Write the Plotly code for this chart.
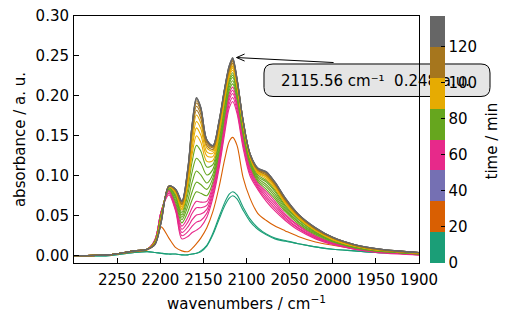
import plotly.graph_objects as go

# ---------------- data ----------------
wavenumbers = [2300, 2260, 2230, 2215, 2206, 2199, 2190, 2182, 2175, 2168, 2163, 2158,
               2153, 2146, 2139, 2132, 2125, 2120, 2116, 2111, 2104, 2096, 2087, 2077,
               2067, 2055, 2040, 2020, 2000, 1975, 1950, 1925, 1900]

times = [0, 8, 25, 53, 56, 60, 63, 66, 70, 73, 77, 80, 84, 88, 92, 96, 100,
         105, 109, 113, 117, 122, 127, 132]

spec_000 = [0.000,0.000,0.004,0.005,0.004,0.003,0.002,0.002,0.001,0.001,0.002,0.003,0.005,0.012,0.026,0.045,0.063,0.072,0.075,0.071,0.057,0.043,0.033,0.026,0.021,0.018,0.015,0.011,0.008,0.006,0.004,0.003,0.002]
spec_008 = [0.000,0.000,0.004,0.005,0.004,0.003,0.002,0.002,0.001,0.001,0.002,0.003,0.006,0.013,0.028,0.048,0.067,0.077,0.080,0.076,0.061,0.046,0.035,0.027,0.022,0.019,0.015,0.011,0.008,0.006,0.004,0.003,0.002]
spec_025 = [0.000,0.001,0.005,0.007,0.015,0.036,0.022,0.010,0.006,0.005,0.009,0.015,0.022,0.035,0.055,0.085,0.122,0.143,0.148,0.138,0.098,0.072,0.053,0.044,0.037,0.031,0.024,0.017,0.013,0.009,0.006,0.004,0.003]
spec_053 = [0.000,0.001,0.006,0.008,0.020,0.055,0.076,0.055,0.021,0.024,0.029,0.032,0.036,0.048,0.072,0.108,0.155,0.185,0.193,0.178,0.135,0.100,0.083,0.068,0.056,0.044,0.032,0.021,0.014,0.008,0.004,0.002,0.001]
spec_056 = [0.000,0.001,0.006,0.008,0.020,0.055,0.078,0.057,0.025,0.030,0.037,0.042,0.044,0.053,0.076,0.112,0.160,0.190,0.198,0.182,0.139,0.103,0.085,0.071,0.059,0.046,0.034,0.022,0.015,0.008,0.005,0.003,0.001]
spec_060 = [0.000,0.001,0.006,0.008,0.020,0.055,0.080,0.059,0.029,0.036,0.045,0.051,0.052,0.058,0.080,0.116,0.165,0.195,0.203,0.187,0.143,0.106,0.087,0.074,0.062,0.048,0.035,0.023,0.015,0.009,0.005,0.003,0.001]
spec_063 = [0.000,0.001,0.006,0.008,0.020,0.054,0.081,0.061,0.033,0.042,0.053,0.060,0.060,0.063,0.084,0.120,0.169,0.199,0.207,0.190,0.146,0.109,0.089,0.077,0.065,0.050,0.037,0.024,0.016,0.009,0.005,0.003,0.002]
spec_066 = [0.000,0.001,0.006,0.008,0.020,0.054,0.082,0.063,0.037,0.048,0.060,0.068,0.067,0.068,0.088,0.124,0.173,0.203,0.211,0.194,0.149,0.111,0.091,0.080,0.068,0.052,0.038,0.025,0.016,0.009,0.005,0.003,0.002]
spec_070 = [0.000,0.001,0.006,0.008,0.018,0.052,0.083,0.066,0.041,0.055,0.070,0.080,0.078,0.075,0.092,0.128,0.177,0.207,0.215,0.197,0.152,0.114,0.093,0.083,0.071,0.055,0.040,0.026,0.017,0.010,0.006,0.004,0.002]
spec_073 = [0.000,0.001,0.006,0.008,0.018,0.051,0.084,0.069,0.045,0.062,0.080,0.092,0.089,0.083,0.097,0.132,0.181,0.211,0.219,0.200,0.155,0.116,0.095,0.086,0.074,0.057,0.042,0.027,0.018,0.010,0.006,0.004,0.002]
spec_077 = [0.000,0.001,0.006,0.008,0.018,0.050,0.085,0.072,0.048,0.069,0.092,0.106,0.101,0.091,0.102,0.137,0.186,0.215,0.223,0.204,0.158,0.118,0.097,0.089,0.077,0.059,0.043,0.028,0.018,0.011,0.006,0.004,0.002]
spec_080 = [0.000,0.001,0.006,0.008,0.018,0.049,0.085,0.074,0.051,0.077,0.105,0.122,0.116,0.101,0.108,0.142,0.190,0.218,0.226,0.206,0.160,0.120,0.099,0.092,0.080,0.061,0.045,0.029,0.019,0.011,0.007,0.004,0.003]
spec_084 = [0.000,0.001,0.006,0.008,0.018,0.048,0.086,0.076,0.054,0.084,0.118,0.138,0.131,0.111,0.114,0.147,0.194,0.221,0.229,0.209,0.162,0.122,0.101,0.094,0.082,0.063,0.046,0.030,0.019,0.011,0.007,0.004,0.003]
spec_088 = [0.000,0.001,0.006,0.008,0.016,0.047,0.086,0.078,0.057,0.089,0.127,0.150,0.142,0.118,0.119,0.151,0.197,0.224,0.232,0.211,0.164,0.123,0.103,0.096,0.084,0.065,0.047,0.031,0.020,0.012,0.007,0.005,0.003]
spec_092 = [0.000,0.001,0.006,0.008,0.016,0.046,0.086,0.079,0.059,0.093,0.135,0.160,0.151,0.125,0.124,0.155,0.200,0.226,0.235,0.213,0.165,0.124,0.104,0.098,0.086,0.066,0.048,0.032,0.020,0.012,0.007,0.005,0.003]
spec_096 = [0.000,0.001,0.006,0.008,0.016,0.045,0.087,0.080,0.061,0.097,0.142,0.168,0.159,0.130,0.128,0.158,0.203,0.228,0.237,0.215,0.166,0.125,0.105,0.099,0.087,0.067,0.049,0.032,0.021,0.012,0.008,0.005,0.003]
spec_100 = [0.000,0.001,0.006,0.008,0.016,0.045,0.087,0.081,0.063,0.100,0.149,0.176,0.166,0.135,0.131,0.161,0.205,0.230,0.239,0.216,0.167,0.126,0.106,0.100,0.088,0.068,0.050,0.033,0.021,0.013,0.008,0.005,0.003]
spec_105 = [0.000,0.001,0.006,0.008,0.015,0.044,0.087,0.081,0.064,0.103,0.154,0.182,0.172,0.138,0.133,0.163,0.207,0.232,0.241,0.218,0.168,0.126,0.107,0.101,0.089,0.069,0.050,0.033,0.022,0.013,0.008,0.005,0.003]
spec_109 = [0.000,0.001,0.006,0.008,0.015,0.043,0.087,0.082,0.065,0.105,0.158,0.187,0.177,0.141,0.135,0.165,0.209,0.234,0.243,0.219,0.169,0.127,0.108,0.102,0.090,0.070,0.051,0.034,0.022,0.013,0.008,0.005,0.004]
spec_113 = [0.000,0.001,0.006,0.008,0.015,0.043,0.087,0.082,0.066,0.107,0.161,0.191,0.181,0.143,0.136,0.166,0.210,0.235,0.244,0.220,0.169,0.127,0.108,0.103,0.091,0.071,0.051,0.034,0.022,0.013,0.008,0.006,0.004]
spec_117 = [0.000,0.001,0.006,0.008,0.015,0.042,0.087,0.082,0.067,0.108,0.163,0.194,0.183,0.144,0.137,0.167,0.211,0.236,0.245,0.221,0.170,0.128,0.109,0.104,0.091,0.071,0.052,0.034,0.023,0.014,0.009,0.006,0.004]
spec_122 = [0.000,0.001,0.006,0.008,0.014,0.042,0.087,0.083,0.068,0.109,0.164,0.196,0.185,0.145,0.137,0.167,0.211,0.237,0.246,0.221,0.170,0.128,0.109,0.104,0.092,0.072,0.052,0.035,0.023,0.014,0.009,0.006,0.004]
spec_127 = [0.000,0.001,0.006,0.008,0.014,0.041,0.087,0.083,0.068,0.110,0.165,0.197,0.186,0.145,0.138,0.168,0.212,0.238,0.247,0.222,0.170,0.128,0.110,0.105,0.092,0.072,0.052,0.035,0.023,0.014,0.009,0.006,0.004]
spec_132 = [0.000,0.001,0.006,0.008,0.014,0.041,0.087,0.083,0.069,0.110,0.165,0.198,0.186,0.145,0.138,0.168,0.212,0.238,0.248,0.222,0.170,0.128,0.110,0.105,0.092,0.072,0.052,0.035,0.023,0.014,0.009,0.006,0.004]

spectra = [spec_000, spec_008, spec_025, spec_053, spec_056, spec_060, spec_063, spec_066,
           spec_070, spec_073, spec_077, spec_080, spec_084, spec_088, spec_092, spec_096,
           spec_100, spec_105, spec_109, spec_113, spec_117, spec_122, spec_127, spec_132]

time_max = 137.2
dark2 = ["#1b9e77", "#d95f02", "#7570b3", "#e7298a", "#66a61e", "#e6ab02", "#a6761d", "#666666"]
cbar_ticks = [0, 20, 40, 60, 80, 100, 120]
x_ticks = [2250, 2200, 2150, 2100, 2050, 2000, 1950, 1900]
y_ticks = [0, 0.05, 0.10, 0.15, 0.20, 0.25, 0.30]

ann_wavenumber = 2115.56
ann_absorbance = 0.248
ann_text = "2115.56 cm\u207b\u00b9  0.248 a.u."

# ---------------- layout geometry ----------------
W, H = 512, 320
L, R, T, B = 74, 93, 16, 57
PW, PH = W - L - R, H - T - B
XR = [2300, 1900]
YR = [-0.0092, 0.30]
FONT = "DejaVu Sans"
FS = 15

def color_for(t):
    n = len(dark2)
    i = min(int(t / time_max * n), n - 1)
    return dark2[i]

fig = go.Figure()
for t, s in zip(times, spectra):
    fig.add_trace(go.Scatter(x=wavenumbers, y=s, mode="lines",
                             line=dict(color=color_for(t), width=1.1, shape="spline", smoothing=0.9),
                             hoverinfo="skip", showlegend=False))

# colorbar
n = len(dark2)
cs = []
for i, c in enumerate(dark2):
    cs.append([i / n, c])
    cs.append([(i + 1) / n, c])
fig.add_trace(go.Scatter(x=[None], y=[None], mode="markers", showlegend=False, hoverinfo="skip",
                         marker=dict(color=[0, time_max], cmin=0, cmax=time_max, colorscale=cs,
                                     showscale=True,
                                     colorbar=dict(x=(429.5 - L) / PW, xanchor="left", xpad=0,
                                                   y=0.5, yanchor="middle", ypad=0,
                                                   len=PH, lenmode="pixels",
                                                   thickness=15, thicknessmode="pixels",
                                                   outlinewidth=0, ticks="inside", ticklen=4,
                                                   tickcolor="#000", tickwidth=1,
                                                   tickvals=cbar_ticks,
                                                   tickfont=dict(family=FONT, size=FS, color="#000")))))

# colorbar title as rotated text
fig.add_annotation(text="time / min", xref="paper", yref="paper",
                   x=(491.5 - L) / PW, y=0.494, xanchor="center", yanchor="middle",
                   textangle=-90, showarrow=False,
                   font=dict(family=FONT, size=FS, color="#000"))

# annotation box (paper coords), drawn under the colorbar
def px_to_paper(px, py):
    return (px - L) / PW, (H - B - py) / PH

bx0, bx1, by0, by1, r = 264, 490, 64, 96.5, 9
def P(px, py):
    x, y = px_to_paper(px, py)
    return f"{x:.5f},{y:.5f}"
path = (f"M {P(bx0 + r, by0)} L {P(bx1 - r, by0)} Q {P(bx1, by0)} {P(bx1, by0 + r)} "
        f"L {P(bx1, by1 - r)} Q {P(bx1, by1)} {P(bx1 - r, by1)} "
        f"L {P(bx0 + r, by1)} Q {P(bx0, by1)} {P(bx0, by1 - r)} "
        f"L {P(bx0, by0 + r)} Q {P(bx0, by0)} {P(bx0 + r, by0)} Z")
fig.add_shape(type="path", path=path, xref="paper", yref="paper", layer="below",
              fillcolor="#e5e5e5", line=dict(color="#000", width=1),
              label=dict(text=ann_text, textposition="middle left", padding=14,
                         font=dict(family=FONT, size=FS, color="#000")))

# arrow from box to the peak (open chevron)
dxpp = (XR[1] - XR[0]) / PW
dypp = (YR[1] - YR[0]) / PH
tipx = ann_wavenumber + 3.5 * dxpp
tipy = ann_absorbance
def D(ox, oy):
    return f"{tipx + ox * dxpp:.4f},{tipy - oy * dypp:.5f}"
apath = (f"M {D(97, 5)} L {D(0, 0)} M {D(8, -3.5)} L {D(0, 0)} L {D(8, 3.5)}")
fig.add_shape(type="path", path=apath, xref="x", yref="y", layer="above",
              line=dict(color="#000", width=1))

axis_common = dict(showline=True, linecolor="#000", linewidth=1, mirror=True,
                   ticks="inside", ticklen=5, tickcolor="#000", tickwidth=1,
                   showgrid=False, zeroline=False,
                   tickfont=dict(family=FONT, size=FS, color="#000"))
fig.update_xaxes(range=XR, tickvals=x_ticks, ticklabelstandoff=3,
                 title=dict(text="wavenumbers / cm<sup>\u22121</sup>", standoff=10,
                            font=dict(family=FONT, size=FS, color="#000")), **axis_common)
fig.update_yaxes(range=YR, tickvals=y_ticks, tickformat=".2f", ticklabelstandoff=1,
                 title=dict(text="absorbance / a. u.", standoff=6,
                            font=dict(family=FONT, size=FS, color="#000")), **axis_common)
fig.update_layout(width=W, height=H, margin=dict(l=L, r=R, t=T, b=B, autoexpand=False),
                  paper_bgcolor="white", plot_bgcolor="rgba(0,0,0,0)", showlegend=False,
                  font=dict(family=FONT, size=FS, color="#000"))
fig.write_html("out.html")
